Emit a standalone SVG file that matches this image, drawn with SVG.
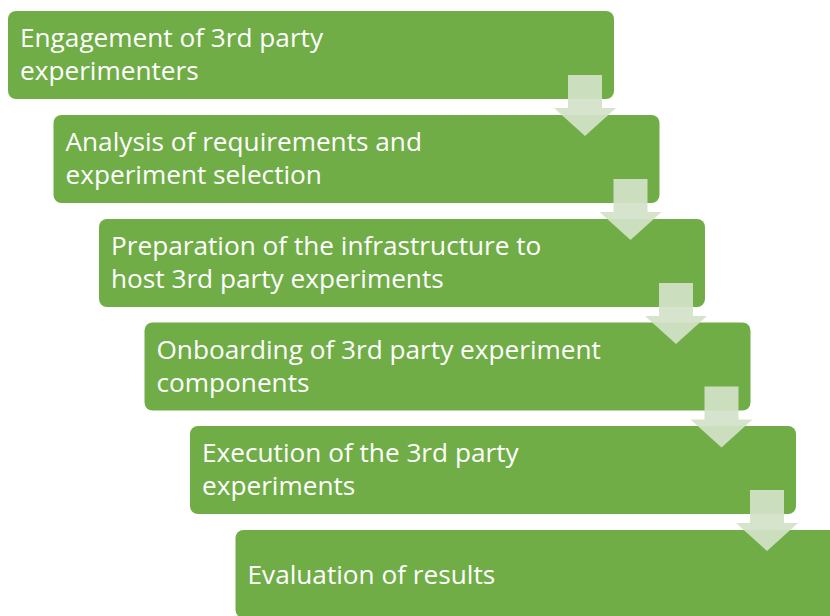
<svg xmlns="http://www.w3.org/2000/svg" width="830" height="616" viewBox="0 0 830 616">
<defs>
<style>
.box{fill:#70ad47;}
.t{fill:#ffffff;font-family:"Open Sans","Liberation Sans",sans-serif;font-size:26.2px;}
.arr{fill:#d2e2c9;fill-opacity:0.92;}
</style>
<path id="arrow" d="M-17,0 H17 V33 H31 L0,61 L-31,33 H-17 Z"/>
</defs>
<rect width="830" height="616" fill="#ffffff"/>
<g id="node1"><rect class="box" x="8" y="11" width="606" height="88" rx="8"/>
<text class="t" x="20" y="47">Engagement of 3rd party</text><text class="t" x="20" y="80">experimenters</text></g>
<g id="node2"><rect class="box" x="53.5" y="115" width="606" height="88" rx="8"/>
<text class="t" x="65.5" y="151">Analysis of requirements and</text><text class="t" x="65.5" y="184">experiment selection</text></g>
<g id="node3"><rect class="box" x="99" y="219" width="606" height="88" rx="8"/>
<text class="t" x="111" y="255">Preparation of the infrastructure to</text><text class="t" x="111" y="288">host 3rd party experiments</text></g>
<g id="node4"><rect class="box" x="144.5" y="322.5" width="606" height="88" rx="8"/>
<text class="t" x="156.5" y="358.5">Onboarding of 3rd party experiment</text><text class="t" x="156.5" y="391.5">components</text></g>
<g id="node5"><rect class="box" x="190" y="426" width="606" height="88" rx="8"/>
<text class="t" x="202" y="462">Execution of the 3rd party</text><text class="t" x="202" y="495">experiments</text></g>
<g id="node6"><rect class="box" x="235.5" y="530" width="606" height="88" rx="8"/>
<text class="t" x="247.5" y="584">Evaluation of results</text></g>
<g id="connectors">
<use href="#arrow" class="arr" transform="translate(585,75)"/>
<use href="#arrow" class="arr" transform="translate(630.5,179)"/>
<use href="#arrow" class="arr" transform="translate(676,283)"/>
<use href="#arrow" class="arr" transform="translate(721.5,386.5)"/>
<use href="#arrow" class="arr" transform="translate(767,490)"/>
</g>
</svg>
